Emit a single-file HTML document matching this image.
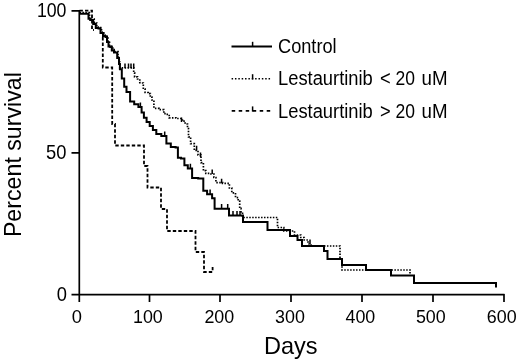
<!DOCTYPE html>
<html><head><meta charset="utf-8"><title>Percent survival</title>
<style>
html,body{margin:0;padding:0;background:#fff;}
body{width:520px;height:361px;overflow:hidden;}
svg{display:block;}
text{font-family:"Liberation Sans",Arial,sans-serif;fill:#000;}
.t{font-size:19px;}
.a{font-size:23.2px;}
.l{font-size:19.6px;}
</style></head><body>
<svg width="520" height="361" viewBox="0 0 520 361">
<rect width="520" height="361" fill="#fff"/>
<g fill="none" stroke="#000" stroke-linejoin="miter" stroke-linecap="butt">
<!-- axes -->
<path d="M79.3,10 V302 M71.5,294.6 H504.5 M504,294 V302 M71.5,10.9 H79 M71.5,152.9 H79 M149.5,294 V302 M220,294 V302 M291,294 V302 M362,294 V302 M433,294 V302" stroke-width="1.7"/>
<!-- dotted -->
<path d="M79.5,12.6 L89.5,12.6 L89.5,18 H91.2 V19.0 H93.0 H94.2 V23.0 H95.5 H96.8 V27.0 H98.0 H99.5 V27.5 H101.0 H101.5 V32.0 H102.0 H104.0 V35.0 H106.0 H106.5 V36.0 H107.0 H108.0 V41.0 H109.0 H109.5 V45.5 H110.0 H111.2 V46.0 H112.5 H112.8 V49.5 H113.0 H115.0 V51.5 H117.0 H118.0 V57.0 H119.0 H119.2 V62.0 H119.5 H119.8 V67.8 H120.0 L133.7,67.8 L133.7,72.8 H134.6 V76.9 H135.5 H137.5 V79.0 H139.5 H139.8 V82.7 H140.0 H141.5 V83.0 H143.0 H143.3 V89.0 H143.6 H145.1 V92.5 H146.5 H148.2 V93.7 H150.0 H150.3 V97.0 H150.6 H151.9 V100.0 H153.2 H153.9 V108.3 H154.6 H159.0 V109.6 H163.4 H163.8 V113.7 H164.1 H165.8 V114.4 H167.5 H169.2 V117.8 H170.9 H175.9 V118.5 H181.0 H182.4 V121.2 H183.8 H185.1 V124.0 H186.5 H187.5 V128.6 H188.5 L188.5,136.8 H190.6 V143.6 H192.6 H194.3 V150.4 H196.0 H198.0 V155.0 H200.0 H201.0 V162.6 H202.0 H203.4 V170.7 H204.8 H205.8 V173.4 H206.8 H209.5 V174.0 H212.2 H213.9 V177.5 H215.6 H215.9 V182.6 H216.2 H222.6 V183.3 H229.1 H229.4 V188.0 H229.8 H231.8 V192.8 H233.8 H235.5 V197.6 H237.2 H238.2 V201.0 H239.3 H239.7 V208.4 H240.0 H241.0 V211.8 H242.0 H242.5 V217.5 H243.0 L277.5,217.5 L277.5,227.5 H283.8 V231.0 H290.0 H294.5 V235.0 H299.0 H300.8 V237.5 H302.5 H304.2 V240.0 H306.0 H308.0 V244.0 H310.0 H311.0 V246.0 H312.0 L340,246 L340,259 L342,259 L342,270 L410,270 L410,275.5" stroke-width="1.7" stroke-dasharray="1.5 1.45"/>
<path d="M125,68 v-4.6 M128.5,68 v-4.6 M131,68 v-4.6 M133.7,68 v-4.6 M181.5,122 v-4.6 M196.6,150.4 v-4.6 M200.5,157 v-4.6 M212.2,174 v-4.6 M221.6,183.3 v-4.6 M310,244 v-4.6" stroke-width="1.5"/>
<!-- dashed -->
<path d="M79.5,10.6 L92,10.6 L92,30 L94,30" stroke-width="1.8" stroke-dasharray="3.4 2.1"/>
<path d="M102.8,37 L102.8,67.5 L112.2,67.5 L112.2,124 L115,124 L115,145.5 L144,145.5 L144,166 L147.5,166 L147.5,187.5 L161,187.5 L161,209 L167,209 L167,231 L195.5,231 L195.5,252 L204,252 L204,272 L212.6,272 L212.6,266.5" stroke-width="1.8" stroke-dasharray="3.4 2.1"/>
<!-- solid -->
<path d="M79.5,13.7 L88.5,13.7 L88.5,18.7 H90.2 V20.0 H92.0 H93.2 V24.0 H94.5 H95.8 V28.0 H97.0 H98.5 V28.5 H100.0 H100.5 V33.0 H101.0 H103.0 V36.0 H105.0 H105.5 V37.0 H106.0 H107.0 V42.0 H108.0 H108.5 V46.5 H109.0 H110.2 V47.0 H111.5 H111.8 V50.5 H112.0 H114.0 V52.5 H116.0 H117.2 V58.0 H118.5 H119.0 V64.0 H119.5 H119.9 V69.3 H120.3 H121.8 V78.6 H123.3 H124.2 V86.7 H125.0 H126.5 V92.0 H128.1 H130.1 V101.5 H132.2 H134.2 V104.2 H136.3 H138.4 V107.0 H140.4 H141.6 V112.4 H142.8 H143.9 V117.8 H145.1 H146.6 V121.9 H148.1 H149.7 V126.0 H151.2 H152.9 V130.0 H154.6 H156.3 V134.0 H158.0 H161.3 V136.0 H164.7 H166.4 V143.6 H168.1 H170.8 V147.0 H173.6 H175.6 V147.6 H177.6 H177.9 V157.8 H178.3 H181.0 V158.5 H183.7 H184.4 V165.3 H185.1 H187.8 V168.4 H190.4 H192.1 V177.9 H193.8 H198.2 V178.6 H202.6 H203.3 V190.8 H204.0 H207.1 V194.2 H210.1 H212.1 V198.2 H214.2 H214.6 V208.7 H214.9 L229,208.7 L229,215.5 L243,215.5 L243,222 L267.5,222 L267.5,230 L290,230 L290,236 L297.5,236 L297.5,240 L302,240 L302,246 L324,246 L324,251 L327.5,251 L327.5,259 L342,259 L342,265 L366,265 L366,270 L391,270 L391,275.5 L414,275.5 L414,283 L496,283 L496,287.5" stroke-width="2"/>
<path d="M221.6,208.7 v-4.6 M227.7,208.7 v-4.6 M233,215.5 v-4.6 M237,215.5 v-4.6 M240,215.5 v-4.6 M140.4,107 v-4.6 M164.7,136 v-4.6 M190.4,168.4 v-4.6 M210.1,194.2 v-4.6" stroke-width="1.5"/>
<!-- legend -->
<path d="M231.5,46.6 H272" stroke-width="2"/><path d="M252.6,46.5 V41.8" stroke-width="1.5"/>
<path d="M231.6,78.7 H271" stroke-width="1.6" stroke-dasharray="1.5 1.86"/><path d="M252.6,79.4 V74.2" stroke-width="1.5"/>
<path d="M231.7,110.8 H271" stroke-width="1.8" stroke-dasharray="3.5 3.5"/><path d="M252.6,111.6 V106.4" stroke-width="1.5"/>
</g>
<g class="t" lengthAdjust="spacingAndGlyphs">
<text x="36.9" y="16.9" font-size="20.2" textLength="29.6" lengthAdjust="spacingAndGlyphs">100</text>
<text x="46" y="159.1" font-size="20.2" textLength="20.4" lengthAdjust="spacingAndGlyphs">50</text>
<text x="56.7" y="301.2" font-size="20.2" textLength="10.2" lengthAdjust="spacingAndGlyphs">0</text>
<text x="82" y="323.3" text-anchor="end" textLength="10.2" lengthAdjust="spacingAndGlyphs">0</text>
<text x="162.8" y="323.3" text-anchor="end" textLength="29.8" lengthAdjust="spacingAndGlyphs">100</text>
<text x="234.2" y="323.3" text-anchor="end" textLength="29.8" lengthAdjust="spacingAndGlyphs">200</text>
<text x="304.9" y="323.3" text-anchor="end" textLength="29.8" lengthAdjust="spacingAndGlyphs">300</text>
<text x="375.3" y="323.3" text-anchor="end" textLength="29.8" lengthAdjust="spacingAndGlyphs">400</text>
<text x="445.7" y="323.3" text-anchor="end" textLength="29.8" lengthAdjust="spacingAndGlyphs">500</text>
<text x="516.6" y="323.3" text-anchor="end" textLength="29.8" lengthAdjust="spacingAndGlyphs">600</text>
</g>
<text class="a" x="264" y="353.6" textLength="53.6" lengthAdjust="spacingAndGlyphs">Days</text>
<text class="a" transform="translate(21.3,237.1) rotate(-90)" textLength="165" lengthAdjust="spacingAndGlyphs">Percent survival</text>
<g class="l">
<text x="278" y="52.5" textLength="58.6" lengthAdjust="spacingAndGlyphs">Control</text>
<text x="278" y="85.2" textLength="94.8" lengthAdjust="spacingAndGlyphs">Lestaurtinib</text>
<text x="380" y="85.2" textLength="10.7" lengthAdjust="spacingAndGlyphs">&lt;</text>
<text x="395.5" y="85.2" textLength="19.5" lengthAdjust="spacingAndGlyphs">20</text>
<text x="421.6" y="85.2" textLength="26" lengthAdjust="spacingAndGlyphs">uM</text>
<text x="278" y="118" textLength="94.8" lengthAdjust="spacingAndGlyphs">Lestaurtinib</text>
<text x="380" y="118" textLength="10.7" lengthAdjust="spacingAndGlyphs">&gt;</text>
<text x="395.5" y="118" textLength="19.5" lengthAdjust="spacingAndGlyphs">20</text>
<text x="421.6" y="118" textLength="26" lengthAdjust="spacingAndGlyphs">uM</text>
</g>
</svg>
</body></html>
